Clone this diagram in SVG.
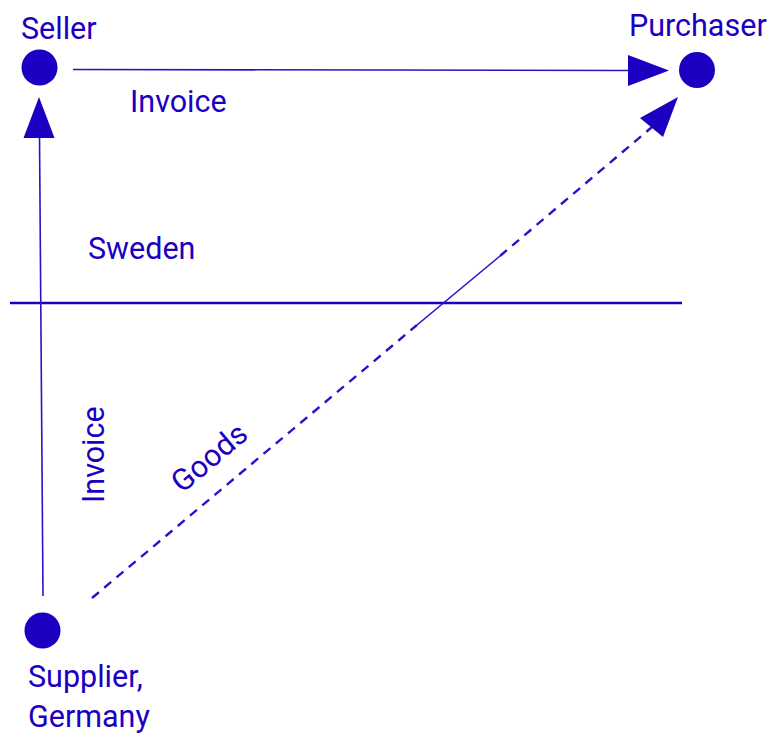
<svg xmlns="http://www.w3.org/2000/svg" width="771" height="735" viewBox="0 0 771 735">
  <style>
    .lbl { font-family: Roboto, "Liberation Sans", sans-serif; font-size: 30.5px; fill: #1b00c2; }
    .dot { fill: #1b00c2; }
    .ln { stroke: #2a12c8; stroke-width: 1.6; fill: none; }
    .dash { stroke: #2a12c8; stroke-width: 2.4; fill: none; stroke-dasharray: 9 7; }
    .head { fill: #1b00c2; }
  </style>
  <rect width="771" height="735" fill="#ffffff"/>

  <!-- border line between the two countries -->
  <line x1="10" y1="303" x2="682" y2="303" stroke="#1b00c2" stroke-width="2.6"/>
  <text class="lbl" x="88" y="259">Sweden</text>

  <g id="connectors">
    <!-- Seller -> Purchaser: invoice -->
    <g id="edge-invoice-seller">
      <line class="ln" x1="73" y1="69.5" x2="630" y2="70.5"/>
      <polygon class="head" points="669,70.5 628,55 628,86"/>
      <text class="lbl" x="130" y="112">Invoice</text>
    </g>
    <!-- Supplier -> Seller: invoice -->
    <g id="edge-invoice-supplier">
      <line class="ln" x1="43" y1="596" x2="39.5" y2="136"/>
      <polygon class="head" points="39,97 23.5,138 54.5,138"/>
      <text class="lbl" transform="translate(104,503) rotate(-90)">Invoice</text>
    </g>
    <!-- Supplier -> Purchaser: goods -->
    <g id="edge-goods">
      <line class="dash" x1="92" y1="598" x2="417" y2="325"/>
      <line class="ln" x1="417" y1="325" x2="500" y2="256"/>
      <line class="dash" x1="500" y1="256" x2="652" y2="127"/>
      <polygon class="head" points="678,97 640,118 663,137"/>
      <text class="lbl" transform="translate(182,494) rotate(-40)">Goods</text>
    </g>
  </g>

  <g id="seller">
    <circle class="dot" cx="39.5" cy="67.5" r="18"/>
    <text class="lbl" x="21" y="39">Seller</text>
  </g>
  <g id="purchaser">
    <circle class="dot" cx="697" cy="70" r="18"/>
    <text class="lbl" x="629" y="36">Purchaser</text>
  </g>
  <g id="supplier">
    <circle class="dot" cx="42.5" cy="630.5" r="18"/>
    <text class="lbl" x="28" y="687">Supplier,</text>
    <text class="lbl" x="28" y="727">Germany</text>
  </g>
</svg>
